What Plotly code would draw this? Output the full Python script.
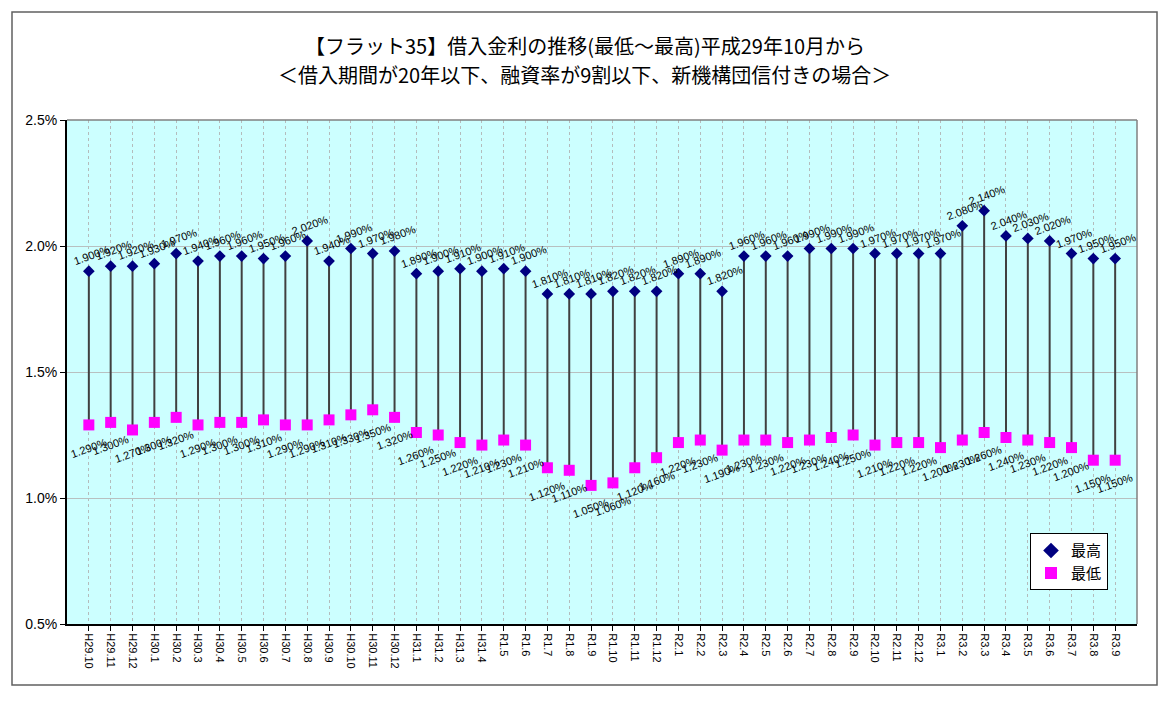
import plotly.graph_objects as go

# 月（和暦）
months = [
    "H29.10", "H29.11", "H29.12",
    "H30.1", "H30.2", "H30.3", "H30.4", "H30.5", "H30.6",
    "H30.7", "H30.8", "H30.9", "H30.10", "H30.11", "H30.12",
    "H31.1", "H31.2", "H31.3", "H31.4",
    "R1.5", "R1.6", "R1.7", "R1.8", "R1.9", "R1.10", "R1.11", "R1.12",
    "R2.1", "R2.2", "R2.3", "R2.4", "R2.5", "R2.6",
    "R2.7", "R2.8", "R2.9", "R2.10", "R2.11", "R2.12",
    "R3.1", "R3.2", "R3.3", "R3.4", "R3.5", "R3.6", "R3.7", "R3.8", "R3.9",
]

# 最高金利 (%)
rate_max = [
    1.90, 1.92, 1.92,
    1.93, 1.97, 1.94, 1.96, 1.96, 1.95,
    1.96, 2.02, 1.94, 1.99, 1.97, 1.98,
    1.89, 1.90, 1.91, 1.90,
    1.91, 1.90, 1.81, 1.81, 1.81, 1.82, 1.82, 1.82,
    1.89, 1.89, 1.82, 1.96, 1.96, 1.96,
    1.99, 1.99, 1.99, 1.97, 1.97, 1.97,
    1.97, 2.08, 2.14, 2.04, 2.03, 2.02, 1.97, 1.95, 1.95,
]

# 最低金利 (%)
rate_min = [
    1.29, 1.30, 1.27,
    1.30, 1.32, 1.29, 1.30, 1.30, 1.31,
    1.29, 1.29, 1.31, 1.33, 1.35, 1.32,
    1.26, 1.25, 1.22, 1.21,
    1.23, 1.21, 1.12, 1.11, 1.05, 1.06, 1.12, 1.16,
    1.22, 1.23, 1.19, 1.23, 1.23, 1.22,
    1.23, 1.24, 1.25, 1.21, 1.22, 1.22,
    1.20, 1.23, 1.26, 1.24, 1.23, 1.22, 1.20, 1.15, 1.15,
]

title_lines = [
    "【フラット35】借入金利の推移(最低～最高)平成29年10月から",
    "＜借入期間が20年以下、融資率が9割以下、新機構団信付きの場合＞",
]

idx = list(range(len(months)))

fig = go.Figure()

# 最高～最低の縦線
stem_x, stem_y = [], []
for i, lo, hi in zip(idx, rate_min, rate_max):
    stem_x += [i, i, None]
    stem_y += [lo, hi, None]
fig.add_trace(go.Scatter(x=stem_x, y=stem_y, mode='lines',
                         line=dict(color='#404040', width=2),
                         showlegend=False, hoverinfo='skip'))

fig.add_trace(go.Scatter(x=idx, y=rate_max, mode='markers', name='最高',
                         marker=dict(symbol='diamond', size=9, color='#000080')))
fig.add_trace(go.Scatter(x=idx, y=rate_min, mode='markers', name='最低',
                         marker=dict(symbol='square', size=11, color='#FF00FF')))

# データラベル（斜め）
label_font = dict(family='Liberation Sans, Arial', size=11, color='#000000')
for i, v in zip(idx, rate_max):
    fig.add_annotation(x=i, y=v, text=f"{v:.3f}%", showarrow=False,
                       textangle=-20, xshift=3, yshift=16, font=label_font)
for i, v in zip(idx, rate_min):
    fig.add_annotation(x=i, y=v, text=f"{v:.3f}%", showarrow=False,
                       textangle=-20, xshift=0, yshift=-23, font=label_font)

# タイトル（2行）
title_font = dict(family='Noto Sans CJK JP', size=20, color='#000000')
fig.add_annotation(xref='paper', yref='paper', x=0.484, y=1.147,
                   xanchor='center', yanchor='middle', text=title_lines[0],
                   showarrow=False, font=title_font)
fig.add_annotation(xref='paper', yref='paper', x=0.484, y=1.091,
                   xanchor='center', yanchor='middle', text=title_lines[1],
                   showarrow=False, font=title_font)

# 外枠とプロットエリア上・右の枠線
fig.add_shape(type='rect', xref='paper', yref='paper',
              x0=-0.0514, x1=1.0187, y0=-0.121, y1=1.2143,
              line=dict(color='#606060', width=1.5), layer='above')
fig.add_shape(type='line', xref='paper', yref='paper', x0=0, x1=1, y0=1, y1=1,
              line=dict(color='#808080', width=1.5), layer='above')
fig.add_shape(type='line', xref='paper', yref='paper', x0=1, x1=1, y0=0, y1=1,
              line=dict(color='#808080', width=1.5), layer='above')

fig.update_layout(
    width=1169, height=701,
    margin=dict(l=59, r=40, t=112, b=85),
    paper_bgcolor='white',
    plot_bgcolor='#CCFFFF',
    font=dict(family='Liberation Sans, Arial', color='#000000'),
    legend=dict(x=0.9, y=0.18, xanchor='left', yanchor='top',
                bgcolor='white', bordercolor='#000000', borderwidth=1,
                font=dict(family='Noto Sans CJK JP', size=15),
                itemsizing='constant'),
)

fig.update_xaxes(
    range=[-1, len(months)],
    tickmode='array', tickvals=idx, ticktext=months, tickangle=90,
    tickfont=dict(size=11),
    showgrid=True, gridcolor='#b4bcbc', griddash='dot', gridwidth=1,
    showline=True, linecolor='#000000', linewidth=2,
    ticks='outside', ticklen=5, tickcolor='#000000',
    zeroline=False,
)
fig.update_yaxes(
    range=[0.5, 2.5], dtick=0.5, tickformat='.1f', ticksuffix='%',
    tickfont=dict(size=14),
    showgrid=True, gridcolor='#b8c0c0', gridwidth=1,
    showline=True, linecolor='#000000', linewidth=2,
    ticks='outside', ticklen=5, tickcolor='#000000',
    zeroline=False,
)

fig.write_html("out.html")
